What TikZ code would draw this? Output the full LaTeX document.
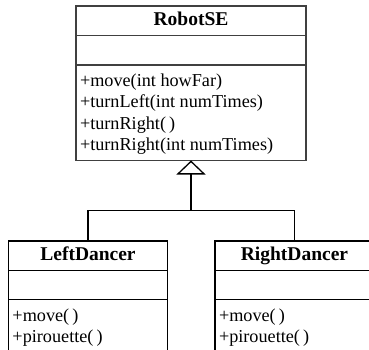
\documentclass[tikz,border=0pt]{standalone}
\usepackage{fontspec}
\setmainfont{Liberation Serif}
\usetikzlibrary{positioning,arrows.meta}
\definecolor{boxgray}{RGB}{64,64,64}
% method list: height, width, lines
\newcommand{\oplines}[3]{\parbox[c][#1][t]{#2}{\raggedright #3}}

\begin{document}
\begin{tikzpicture}[x=1pt,y=1pt,
    cls/.style={draw,outer sep=0pt,inner sep=0pt},
    title/.style={cls,font=\fontsize{19.5}{21}\selectfont\bfseries,minimum height=29.5pt,
                  text height=13pt,text depth=4pt},
    attrs/.style={cls,minimum height=29.3pt},
    ops/.style={cls,inner xsep=4pt,inner ysep=9pt,font=\fontsize{18.2}{21.5}\selectfont},
    base/.style={draw=boxgray,line width=1.8pt},
    sub/.style={line width=1.2pt},
    inherit/.style={-{Triangle[open,length=14pt,width=29pt]},line width=1.3pt}]
  \useasboundingbox (0,0) rectangle (369,-349);
  \clip (0,0) rectangle (369,-349);

  % superclass
  \node[title,base,minimum width=230pt,anchor=north] (robot) at (191,-6) {RobotSE};
  \node[attrs,base,minimum width=230pt,below=0pt of robot] (robot-attr) {};
  \node[ops,base,below=0pt of robot-attr] (robot-ops)
    {\oplines{77.7pt}{222pt}{+move(int howFar)\\+turnLeft(int numTimes)\\+turnRight(\,)\\+turnRight(int numTimes)}};

  % subclasses
  \node[title,sub,minimum width=159pt,anchor=north] (left) at (88,-241) {LeftDancer};
  \node[attrs,sub,minimum width=159pt,below=0pt of left] (left-attr) {};
  \node[ops,sub,below=0pt of left-attr] (left-ops)
    {\oplines{70pt}{151pt}{+move(\,)\\+pirouette(\,)}};

  \node[title,sub,minimum width=159pt,anchor=north] (right) at (294.5,-241) {RightDancer};
  \node[attrs,sub,minimum width=159pt,below=0pt of right] (right-attr) {};
  \node[ops,sub,below=0pt of right-attr] (right-ops)
    {\oplines{70pt}{151pt}{+move(\,)\\+pirouette(\,)}};

  % generalization
  \coordinate[below=50pt of robot-ops] (fork);
  \draw[inherit] (fork) -- (robot-ops);
  \draw[line width=1.3pt] (left) |- (fork) -| (right);
\end{tikzpicture}
\end{document}
